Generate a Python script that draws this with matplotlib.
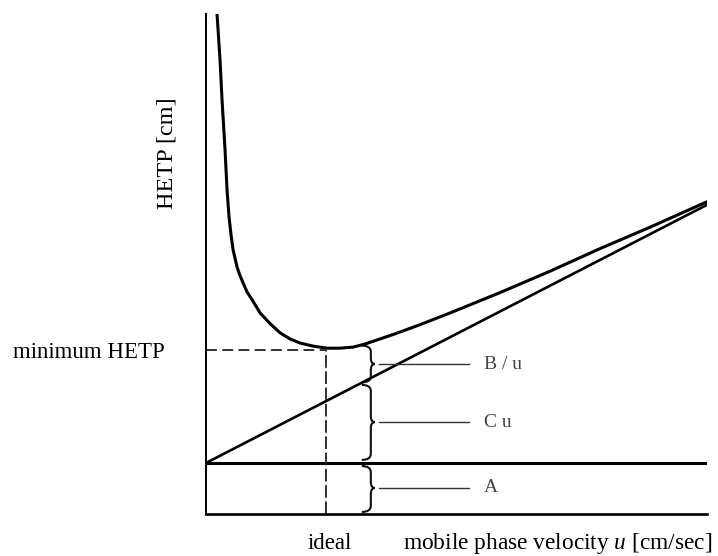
import matplotlib
matplotlib.use('Agg')
import matplotlib.pyplot as plt
from matplotlib.path import Path
from matplotlib.patches import PathPatch

plt.rcParams['font.family'] = ['Liberation Serif', 'DejaVu Serif']
plt.rcParams['mathtext.fontset'] = 'custom'
plt.rcParams['mathtext.rm'] = 'Liberation Serif'
plt.rcParams['mathtext.it'] = 'Liberation Serif:italic'

# HETP curve (u in cm/sec, HETP in cm, arbitrary scale)
u_curve = [0.22, 0.28, 0.32, 0.38, 0.42, 0.46, 0.50, 0.54, 0.62, 0.68, 0.74,
           0.82, 0.92, 1.08, 1.28, 1.48, 1.68, 1.88, 2.14, 2.42, 2.67, 2.93,
           3.17, 3.41, 3.77, 4.27, 4.87, 5.87, 6.87, 7.86, 8.86, 10.0]
h_curve = [9.80, 8.90, 8.12, 7.14, 6.35, 5.82, 5.47, 5.18, 4.84, 4.67, 4.53,
           4.35, 4.20, 3.94, 3.73, 3.55, 3.43, 3.35, 3.29, 3.25, 3.25, 3.27,
           3.33, 3.41, 3.53, 3.71, 3.94, 4.34, 4.76, 5.20, 5.62, 6.12]

# C*u term sitting on top of A, and the constant A term
u_line = [0.0, 10.0]
h_cu = [1.0, 6.06]
h_a = [1.0, 1.0]

u_ideal = 2.4
h_min = 3.22

# braces marking the three contributions
term_labels = ['B / u', 'C u', 'A']
brace_top = [3.30, 2.53, 0.94]
brace_bot = [2.58, 1.06, 0.04]
brace_mid = [2.94, 1.80, 0.51]


def brace(ax, xs, yt, yb, ym, w=0.18, tip=0.08, r=0.12):
    verts = [(xs - w, yt), (xs, yt), (xs, yt - r),
             (xs, ym + r), (xs, ym), (xs + tip, ym),
             (xs, ym), (xs, ym - r),
             (xs, yb + r), (xs, yb), (xs - w, yb)]
    codes = [Path.MOVETO, Path.CURVE3, Path.CURVE3,
             Path.LINETO, Path.CURVE3, Path.CURVE3,
             Path.CURVE3, Path.CURVE3,
             Path.LINETO, Path.CURVE3, Path.CURVE3]
    ax.add_patch(PathPatch(Path(verts, codes), fill=False, lw=1.5,
                           edgecolor='#111111'))


fig = plt.figure(figsize=(7.18, 5.56), dpi=100)
ax = fig.add_axes([206 / 718, 1 - 514 / 556, 501 / 718, 500 / 556])
ax.set_xlim(0, 10)
ax.set_ylim(0, 9.8)
ax.set_xticks([])
ax.set_yticks([])
for side in ['top', 'right']:
    ax.spines[side].set_visible(False)
ax.spines['left'].set_linewidth(1.4)
ax.spines['bottom'].set_linewidth(1.9)

ax.plot(u_curve, h_curve, color='black', lw=2.2, solid_joinstyle='round')
ax.plot(u_line, h_cu, color='black', lw=1.9)
ax.plot(u_line, h_a, color='black', lw=2.2)

ax.plot([0, u_ideal], [h_min, h_min], color='#222222', lw=1.3,
        ls=(0, (6, 3)))
ax.plot([u_ideal, u_ideal], [0, h_min], color='#222222', lw=1.3,
        ls=(0, (7, 2)))

for lab, yt, yb, ym in zip(term_labels, brace_top, brace_bot, brace_mid):
    brace(ax, 3.29, yt, yb, ym)
    ax.plot([3.45, 5.25], [ym, ym], color='#333333', lw=1.0)
    ax.text(5.55, ym, lab, fontsize=14, color='#444444', va='center',
            ha='left')

fig.text(165 / 718, 1 - 352 / 556, 'minimum HETP', fontsize=16.5,
         ha='right', va='center')
fig.text(167 / 718, 1 - 153 / 556, 'HETP [cm]', fontsize=17.5,
         rotation=90, ha='center', va='center')
fig.text(330 / 718, 1 - 549 / 556, 'ideal', fontsize=16.5,
         ha='center', va='baseline')
fig.text(403 / 718, 1 - 549 / 556, 'mobile phase velocity $u$ [cm/sec]',
         fontsize=16.8, ha='left', va='baseline')

fig.savefig('out.png', dpi=100)
